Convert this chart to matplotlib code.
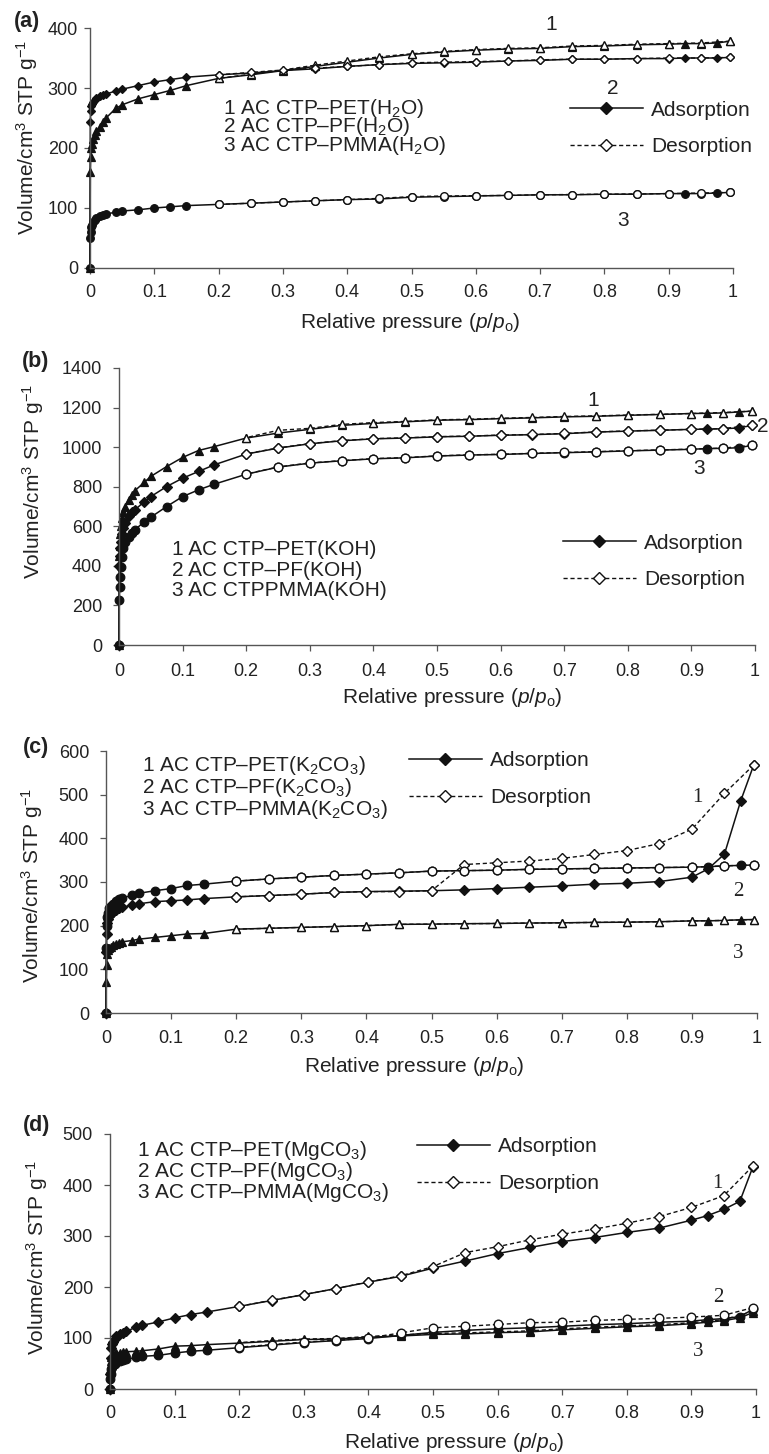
import matplotlib
matplotlib.use('Agg')
import matplotlib.pyplot as plt
from matplotlib.lines import Line2D

plt.rcParams['font.family'] = ['Liberation Sans', 'DejaVu Sans']
plt.rcParams['mathtext.fontset'] = 'custom'
plt.rcParams['mathtext.rm'] = 'Liberation Sans'
plt.rcParams['mathtext.it'] = 'Liberation Sans:italic'
plt.rcParams['mathtext.bf'] = 'Liberation Sans:bold'

# ---------------- data ----------------
P_ADS = [0.0, 0.0005, 0.001, 0.002, 0.003, 0.005, 0.007, 0.01, 0.015, 0.02, 0.025,
         0.04, 0.05, 0.075, 0.1, 0.125, 0.15, 0.2, 0.25, 0.3, 0.35, 0.4, 0.45, 0.5,
         0.55, 0.6, 0.65, 0.7, 0.75, 0.8, 0.85, 0.9, 0.925, 0.95, 0.975, 0.995]
P_DES = [0.995, 0.95, 0.9, 0.85, 0.8, 0.75, 0.7, 0.65, 0.6, 0.55, 0.5, 0.45, 0.4,
         0.35, 0.3, 0.25, 0.2]

# (a) H2O
A_PET_ADS = [0, 160, 185, 200, 207, 215, 222, 228, 235, 243, 250, 266, 272, 282, 289, 296, 304,
             316, 322, 329, 336, 343, 350, 356, 360, 363, 365, 366, 369, 370, 372, 373,
             374, 374, 375, 378]
A_PET_DES = [378, 375, 374, 373, 371, 370, 367, 366, 364, 361, 357, 352, 345, 338, 330, 323, 316]
A_PF_ADS = [0, 243, 262, 270, 273, 276, 280, 283, 286, 288, 290, 295, 298, 304, 310, 314, 318,
            322, 325, 329, 332, 336, 339, 341, 342, 343, 345, 346, 348, 348, 349, 349,
            350, 350, 350, 351]
A_PF_DES = [351, 350, 350, 349, 348, 348, 347, 345, 344, 343, 342, 339, 336, 333, 330, 326, 322]
A_PMMA_ADS = [0, 50, 60, 68, 72, 77, 80, 84, 87, 89, 90, 93, 95, 97, 100, 102, 104,
              106, 108, 110, 112, 114, 115, 118, 119, 120, 121, 122, 122, 123, 123, 124,
              124, 124, 125, 126]
A_PMMA_DES = [126, 125, 124, 123.5, 123, 122.5, 122, 121, 120.5, 120, 119, 116, 114, 112, 110, 108, 106]

# (b) KOH
B_PET_ADS = [0, 450, 500, 560, 600, 640, 670, 700, 735, 760, 780, 823, 852, 902, 948, 983, 1003,
             1046, 1071, 1090, 1110, 1120, 1128, 1136, 1139, 1144, 1148, 1153, 1156, 1161, 1165, 1170,
             1171, 1173, 1178, 1182]
B_PET_DES = [1182, 1175, 1170, 1166, 1162, 1158, 1155, 1150, 1146, 1141, 1138, 1130, 1124, 1115, 1095, 1085, 1048]
B_PF_ADS = [0, 400, 450, 490, 520, 560, 590, 616, 650, 670, 683, 725, 750, 801, 843, 877, 911,
            965, 995, 1017, 1032, 1042, 1046, 1052, 1055, 1060, 1063, 1068, 1076, 1081, 1085, 1090,
            1091, 1093, 1097, 1110]
B_PF_DES = [1110, 1094, 1090, 1086, 1082, 1077, 1069, 1064, 1061, 1056, 1053, 1047, 1043, 1033, 1018, 996, 966]
B_PMMA_ADS = [0, 228, 295, 346, 396, 447, 490, 520, 548, 565, 582, 624, 646, 700, 750, 784, 813,
              863, 899, 919, 931, 941, 946, 955, 960, 963, 968, 972, 976, 981, 985, 989,
              993, 994, 997, 1009]
B_PMMA_DES = [1009, 995, 990, 986, 982, 977, 973, 969, 964, 961, 956, 947, 942, 932, 920, 900, 864]

# (c) K2CO3
C_PET_ADS = [0, 140, 180, 205, 215, 222, 227, 232, 236, 240, 242, 247, 250, 255, 257, 259, 262,
             266, 269, 272, 276, 278, 279, 280, 282, 285, 288, 291, 295, 297, 301, 311,
             330, 364, 486, 568]
C_PET_DES = [568, 503, 421, 388, 372, 363, 354, 348, 344, 340, 280, 278, 278, 276, 272, 269, 266]
C_PF_ADS = [0, 150, 200, 220, 230, 240, 245, 250, 257, 260, 263, 270, 274, 280, 285, 292, 295,
            302, 307, 311, 315, 318, 321, 325, 326, 327, 329, 330, 331, 332, 333, 334,
            335, 337, 338, 339]
C_PF_DES = [339, 337, 334, 333, 332, 331, 330, 329, 327, 326, 325, 321, 318, 315, 311, 307, 302]
C_PMMA_ADS = [0, 70, 110, 135, 145, 150, 152, 155, 158, 160, 163, 166, 169, 173, 177, 181, 182,
              192, 194, 196, 198, 200, 203, 203.5, 204.5, 205, 206, 206.5, 207.5, 208, 209, 211,
              211, 212, 213.5, 214]
C_PMMA_DES = [214, 212, 211, 209, 208, 207.5, 206.5, 206, 205, 204.5, 203.5, 203, 200, 198, 196, 194, 192]

# (d) MgCO3
D_PET_ADS = [0, 30, 60, 80, 88, 92, 98, 103, 107, 110, 113, 121, 125, 131.5, 139.5, 146, 151,
             162, 173.5, 185, 197, 209.5, 221, 237, 251, 265.5, 277.5, 289, 297, 307, 315.5, 331,
             340, 352, 368, 435]
D_PET_DES = [437, 379, 356, 338, 325, 313.5, 303.5, 292.5, 279, 267.5, 240, 222, 210, 197, 185, 174, 162]
D_PF_ADS = [0, 20, 30, 40, 44, 48, 50, 53, 55, 57, 58, 62, 64, 66, 70.5, 74, 76,
            81, 86, 91, 95, 99, 105, 111, 115, 118, 120, 123, 126, 128, 131, 133,
            136, 138, 142, 156]
D_PF_DES = [159.5, 144.5, 141, 138.5, 136.5, 134.5, 131, 130, 126.5, 123, 120, 110, 100, 95.5, 92, 87, 82]
D_PMMA_ADS = [0, 40, 55, 62, 65, 68, 69, 70, 71, 72, 73, 74, 75, 78.5, 84, 85, 87,
              90, 93.5, 97, 98, 101.5, 104, 107, 108, 110.5, 112, 116, 119, 122, 124, 128,
              131, 134, 139.5, 150]
D_PMMA_DES = [152, 136, 130, 126, 124, 121, 118, 114, 112, 110, 109, 106, 103, 99, 98, 95, 91]

X_TICKS = [0, 0.1, 0.2, 0.3, 0.4, 0.5, 0.6, 0.7, 0.8, 0.9, 1.0]
X_TICKLABELS = ['0', '0.1', '0.2', '0.3', '0.4', '0.5', '0.6', '0.7', '0.8', '0.9', '1']

PANEL_LABELS = ['(a)', '(b)', '(c)', '(d)']
SAMPLE_TEXTS = [
    ['1 AC CTP\u2013PET(H$_2$O)', '2 AC CTP\u2013PF(H$_2$O)', '3 AC CTP\u2013PMMA(H$_2$O)'],
    ['1 AC CTP\u2013PET(KOH)', '2 AC CTP\u2013PF(KOH)', '3 AC CTPPMMA(KOH)'],
    ['1 AC CTP\u2013PET(K$_2$CO$_3$)', '2 AC CTP\u2013PF(K$_2$CO$_3$)', '3 AC CTP\u2013PMMA(K$_2$CO$_3$)'],
    ['1 AC CTP\u2013PET(MgCO$_3$)', '2 AC CTP\u2013PF(MgCO$_3$)', '3 AC CTP\u2013PMMA(MgCO$_3$)'],
]
Y_MAX = [400, 1400, 600, 500]
Y_STEP = [100, 200, 100, 100]

# ---------------- layout / style ----------------
W, H = 769, 1454
fig = plt.figure(figsize=(W / 100, H / 100), dpi=100)


def fx(x):
    return x / W


def fy(y):
    return 1 - y / H


panels = [
    dict(box=(90, 733, 268, 28), ypad=4.5, xpad=7.0,
         series=[('^', A_PET_ADS, A_PET_DES, 5.5, 3), ('D', A_PF_ADS, A_PF_DES, 4.2, 3),
                 ('o', A_PMMA_ADS, A_PMMA_DES, 5.5, 3)],
         txt=(223, 127, 0.72), leg=(570, 128.5),
         nums=[(551, 25), (613, 88), (623, 221)], num_font='sans',
         plab=(27, 22), ylab=(27, 137), xlab=(410, 322)),
    dict(box=(119, 755, 645, 368), ypad=8, xpad=8.5,
         series=[('^', B_PET_ADS, B_PET_DES, 6, 3), ('D', B_PF_ADS, B_PF_DES, 4.6, 3),
                 ('o', B_PMMA_ADS, B_PMMA_DES, 6.2, 3)],
         txt=(172, 570, 1.12), leg=(563, 561.5),
         nums=[(593, 400), (763, 427), (699, 468)], num_font='sans',
         plab=(36, 362), ylab=(33, 481), xlab=(452, 698)),
    dict(box=(106, 757, 1013, 751), ypad=8, xpad=8,
         series=[('D', C_PET_ADS, C_PET_DES, 4.6, 3), ('o', C_PF_ADS, C_PF_DES, 6.2, 3),
                 ('^', C_PMMA_ADS, C_PMMA_DES, 6, 3)],
         txt=(142, 787.5, 0.97), leg=(409, 779),
         nums=[(697, 797), (738, 892), (738, 953)], num_font='serif',
         plab=(36, 747), ylab=(32, 885), xlab=(414, 1066)),
    dict(box=(110, 756, 1389, 1134), ypad=8, xpad=7.5,
         series=[('D', D_PET_ADS, D_PET_DES, 4.6, 3), ('o', D_PF_ADS, D_PF_DES, 6.2, 3),
                 ('^', D_PMMA_ADS, D_PMMA_DES, 6, 1.5)],
         txt=(137, 1171.5, 0.9), leg=(417, 1165),
         nums=[(717, 1183), (718, 1298), (698, 1352)], num_font='serif',
         plab=(37, 1126), ylab=(37, 1257), xlab=(454, 1443)),
]

LINE_C = '#111111'
SPINE_C = '#555555'
TXT_C = '#222222'
FS = 15      # labels / legends
TFS = 13     # tick labels

for i, pc in enumerate(panels):
    l, r, b, t = pc['box']
    ax = fig.add_axes([fx(l), fy(b), (r - l) / W, (b - t) / H])
    ax.set_xlim(0, 1)
    ax.set_ylim(0, Y_MAX[i])
    ax.set_xticks(X_TICKS)
    ax.set_xticklabels(X_TICKLABELS)
    ax.set_yticks(list(range(0, Y_MAX[i] + 1, Y_STEP[i])))
    for s in ['top', 'right']:
        ax.spines[s].set_visible(False)
    for s in ['left', 'bottom']:
        ax.spines[s].set_color(SPINE_C)
        ax.spines[s].set_linewidth(1.0)
    ax.tick_params(axis='both', direction='out', length=4.2, width=0.9, color=SPINE_C,
                   labelsize=TFS, labelcolor=TXT_C)
    ax.tick_params(axis='y', pad=pc['ypad'])
    ax.tick_params(axis='x', pad=pc['xpad'])
    ax.patch.set_alpha(0)

    for (mk, ads, des, ms, dz) in pc['series']:
        ax.plot(P_ADS, ads, color=LINE_C, lw=1.1, marker=mk, ms=ms, mfc=LINE_C,
                mec=LINE_C, mew=0.9, zorder=2, clip_on=False)
        ax.plot(P_DES, des, color=LINE_C, lw=1.0, ls=(0, (3, 2)), marker=mk, ms=ms,
                mfc='white', mec=LINE_C, mew=1.0, zorder=dz, clip_on=False)

    # sample legend text (one multi-line block)
    tx, ty, lsp = pc['txt']
    fig.text(fx(tx), fy(ty), '\n'.join(SAMPLE_TEXTS[i]), fontsize=FS, color=TXT_C,
             ha='left', va='center', multialignment='left', linespacing=lsp)

    # Adsorption / Desorption legend
    handles = [Line2D([], [], color=LINE_C, lw=1.1, marker='D', ms=6, mfc=LINE_C, mec=LINE_C),
               Line2D([], [], color=LINE_C, lw=1.0, ls=(0, (3, 2)), marker='D', ms=6,
                      mfc='white', mec=LINE_C)]
    lx, ly = pc['leg']
    leg = ax.legend(handles, ['Adsorption', 'Desorption'], loc='center left',
                    bbox_to_anchor=(fx(lx), fy(ly)), bbox_transform=fig.transFigure,
                    frameon=False, fontsize=FS, handlelength=3.5, handletextpad=0.4,
                    labelspacing=0.85, borderpad=0, borderaxespad=0)
    for tt in leg.get_texts():
        tt.set_color(TXT_C)

    # curve numbers
    for k, (nx, ny) in enumerate(pc['nums']):
        if pc['num_font'] == 'serif':
            fig.text(fx(nx), fy(ny), str(k + 1), fontsize=15, color=TXT_C,
                     family=['Liberation Serif', 'DejaVu Serif'], ha='center', va='center')
        else:
            fig.text(fx(nx), fy(ny), str(k + 1), fontsize=FS, color=TXT_C,
                     ha='center', va='center')

    # panel label, axis labels
    px_, py_ = pc['plab']
    fig.text(fx(px_), fy(py_), PANEL_LABELS[i], fontsize=15.5, fontweight='bold',
             color=TXT_C, ha='center', va='center')
    yx, yy = pc['ylab']
    fig.text(fx(yx), fy(yy), 'Volume/cm$^3$ STP g$^{\u22121}$', fontsize=FS, color=TXT_C,
             rotation=90, ha='center', va='center')
    xx, xy = pc['xlab']
    fig.text(fx(xx), fy(xy), 'Relative pressure ($p$/$p_{\\mathrm{o}}$)', fontsize=FS,
             color=TXT_C, ha='center', va='center')

fig.savefig('out.png', dpi=100, facecolor='white')
